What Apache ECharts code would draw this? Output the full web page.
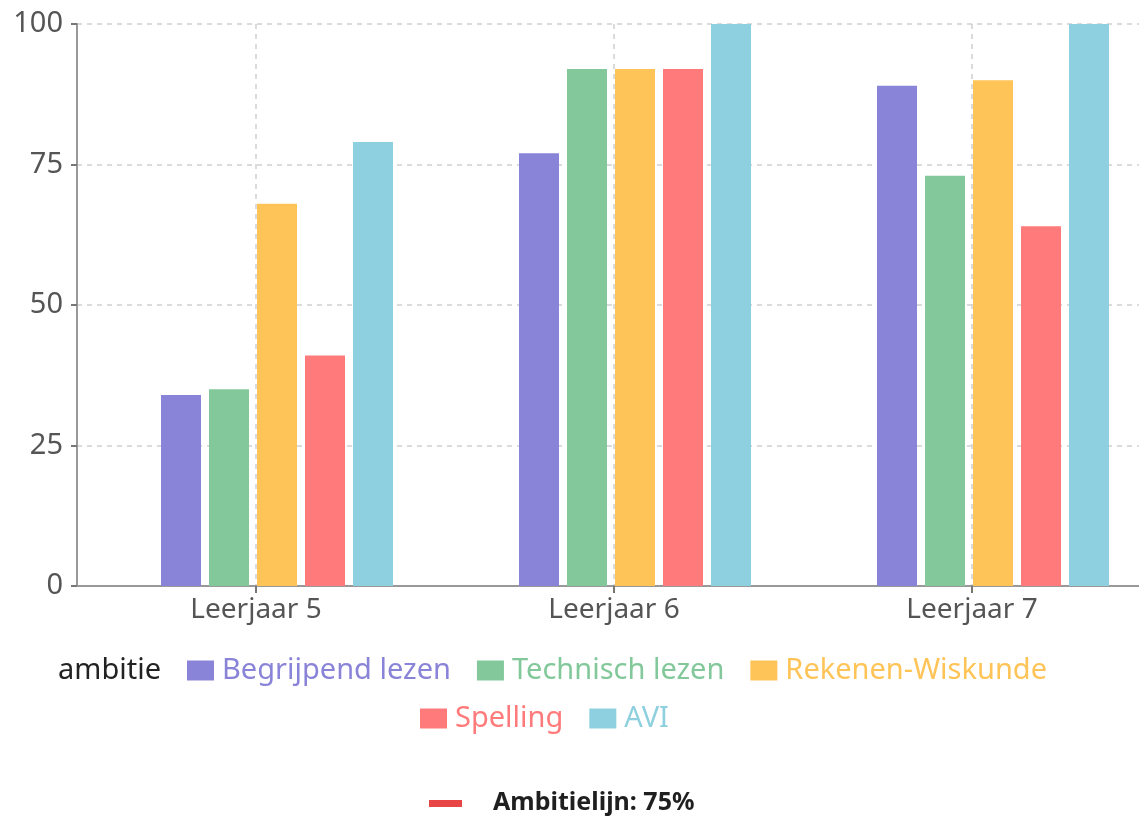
<!DOCTYPE html>
<html>
<head>
<meta charset="utf-8">
<script src="https://cdn.jsdelivr.net/npm/echarts@6/dist/echarts.min.js"></script>
<style>
  html, body { margin: 0; padding: 0; background: #fff; }
  #chart { width: 1139px; height: 818px; }
</style>
</head>
<body>
<div id="chart"></div>
<script>
// Scores per leerjaar and vak (percentage)
const categories = ['Leerjaar 5', 'Leerjaar 6', 'Leerjaar 7'];
const begrijpendLezen = [34, 77, 89];
const technischLezen = [35, 92, 73];
const rekenenWiskunde = [68, 92, 90];
const spelling = [41, 92, 64];
const avi = [79, 100, 100];
const yTicks = [0, 25, 50, 75, 100];
const ambitieLabel = 'Ambitielijn: 75%';

const FONT = '"Noto Sans", "Open Sans", sans-serif';
const vakken = [
  { name: 'Begrijpend lezen', data: begrijpendLezen, color: '#8A84D8' },
  { name: 'Technisch lezen', data: technischLezen, color: '#82C89A' },
  { name: 'Rekenen-Wiskunde', data: rekenenWiskunde, color: '#FFC457' },
  { name: 'Spelling', data: spelling, color: '#FF7A7A' },
  { name: 'AVI', data: avi, color: '#8ED0DF' }
];

const chart = echarts.init(document.getElementById('chart'), null, { renderer: 'canvas' });

const legendText = (color) => ({ color: color, fontSize: 29, fontFamily: FONT, padding: [0, 0, 0, 3] });

const gridBase = { top: 24, width: 1074, height: 562, containLabel: false, outerBoundsMode: 'none' };

const option = {
  animation: false,
  backgroundColor: '#ffffff',
  grid: [
    Object.assign({ left: 77 }, gridBase),
    Object.assign({ left: 98 }, gridBase)
  ],
  legend: [
    {
      left: 18, top: 651, orient: 'horizontal',
      itemWidth: 27, itemHeight: 20, itemGap: 26,
      selectedMode: false,
      data: [
        { name: 'ambitie', icon: 'none', textStyle: legendText('#222') },
        ...vakken.slice(0, 3).map(v => ({ name: v.name, icon: 'rect', textStyle: legendText(v.color) }))
      ]
    },
    {
      left: 415, top: 699, orient: 'horizontal',
      itemWidth: 27, itemHeight: 20, itemGap: 26,
      selectedMode: false,
      data: vakken.slice(3).map(v => ({ name: v.name, icon: 'rect', textStyle: legendText(v.color) }))
    }
  ],
  xAxis: [
    {
      type: 'category', gridIndex: 0, data: categories, boundaryGap: true,
      axisLine: { show: true, lineStyle: { color: '#999', width: 2 } },
      axisTick: { show: true, alignWithLabel: true, length: 7, lineStyle: { color: '#777', width: 2 } },
      axisLabel: { color: '#555', fontSize: 28, fontFamily: FONT, margin: 10 },
      splitLine: { show: false }
    },
    {
      // bar placement axis
      type: 'category', gridIndex: 1, data: categories, show: false
    },
    {
      // vertical guide lines through the category centres
      type: 'category', gridIndex: 0, position: 'top', boundaryGap: false,
      data: ['', '', '', '', '', '', ''],
      axisLine: { show: false }, axisTick: { show: false }, axisLabel: { show: false },
      splitLine: {
        show: true,
        interval: (idx) => idx % 2 === 1,
        lineStyle: { color: '#cfcfcf', type: [5, 5], width: 1.5 }
      }
    }
  ],
  yAxis: [
    {
      type: 'value', gridIndex: 0, min: 0, max: 100, interval: 25,
      axisLine: { show: true, lineStyle: { color: '#999', width: 2 } },
      axisTick: { show: true, length: 6, lineStyle: { color: '#777', width: 2 } },
      axisLabel: {
        color: '#555', fontSize: 29, fontFamily: FONT, margin: 14,
        formatter: (v) => (yTicks.includes(v) ? String(v) : '')
      },
      splitLine: { show: true, lineStyle: { color: '#cfcfcf', type: [5, 5], width: 1.5 } }
    },
    { type: 'value', gridIndex: 1, min: 0, max: 100, show: false }
  ],
  series: [
    {
      name: 'ambitie', type: 'line', xAxisIndex: 0, yAxisIndex: 0,
      data: [], symbol: 'none', itemStyle: { color: '#222' }
    },
    ...vakken.map((v) => ({
      name: v.name, type: 'bar', xAxisIndex: 1, yAxisIndex: 1,
      data: v.data, barWidth: 40, barGap: '20%',
      itemStyle: { color: v.color },
      z: 3
    }))
  ],
  graphic: [
    {
      type: 'rect', left: 429, top: 800,
      shape: { width: 33, height: 7 },
      style: { fill: '#E84646' }
    },
    {
      type: 'text', left: 493, top: 790,
      style: { text: ambitieLabel, fill: '#1f1f1f', font: 'bold 25px ' + FONT }
    }
  ]
};

chart.setOption(option);
</script>
</body>
</html>
